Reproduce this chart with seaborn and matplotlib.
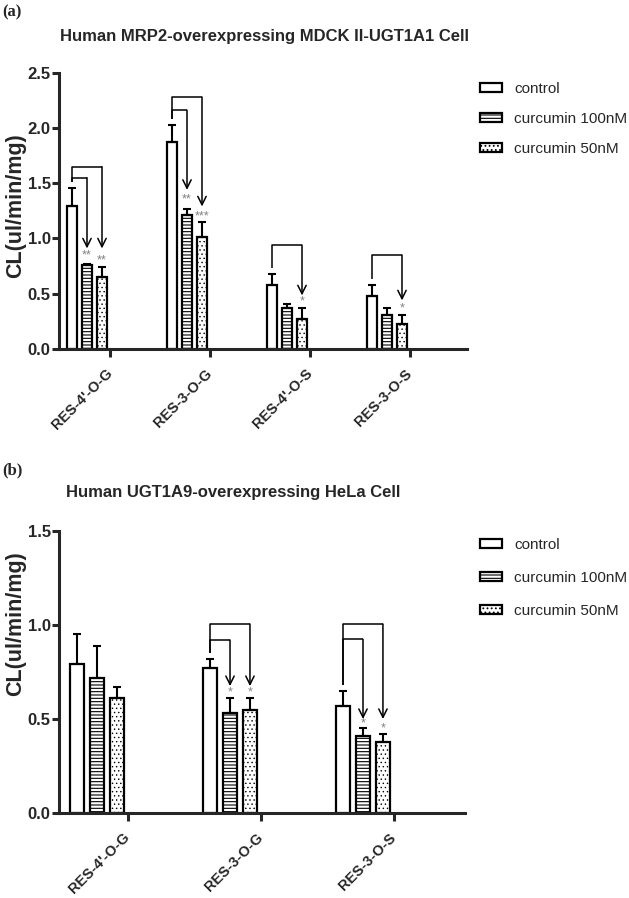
import matplotlib
matplotlib.use("Agg")
import matplotlib.pyplot as plt
import matplotlib.patches as mpatches
import pandas as pd
import seaborn as sns

sns.set_style("ticks")
plt.rcParams["font.family"] = ["Liberation Sans", "DejaVu Sans"]
plt.rcParams["hatch.linewidth"] = 0.8

# ---- data ----
treatments = ["control", "curcumin 100nM", "curcumin 50nM"]

mdck_sites = ["RES-4'-O-G", "RES-3-O-G", "RES-4'-O-S", "RES-3-O-S"]
mdck_control = [1.29, 1.87, 0.58, 0.48]
mdck_control_err = [1.46, 2.03, 0.68, 0.58]
mdck_100 = [0.76, 1.21, 0.37, 0.31]
mdck_100_err = [0.77, 1.27, 0.41, 0.37]
mdck_50 = [0.65, 1.01, 0.27, 0.23]
mdck_50_err = [0.74, 1.15, 0.37, 0.31]

hela_sites = ["RES-4'-O-G", "RES-3-O-G", "RES-3-O-S"]
hela_control = [0.79, 0.77, 0.57]
hela_control_err = [0.95, 0.82, 0.65]
hela_100 = [0.72, 0.53, 0.41]
hela_100_err = [0.89, 0.61, 0.45]
hela_50 = [0.61, 0.55, 0.38]
hela_50_err = [0.67, 0.61, 0.42]

# significance brackets: (group, treatment index, bracket height, arrow tip, star text, star y)
mdck_marks = [
    (0, 1, 1.55, 0.91, "**", 0.85),
    (0, 2, 1.65, 0.91, "**", 0.80),
    (1, 1, 2.16, 1.44, "**", 1.355),
    (1, 2, 2.28, 1.29, "***", 1.20),
    (2, 2, 0.94, 0.485, "*", 0.43),
    (3, 2, 0.85, 0.44, "*", 0.37),
]
hela_marks = [
    (1, 1, 0.92, 0.675, "*", 0.64),
    (1, 2, 1.005, 0.675, "*", 0.64),
    (2, 1, 0.924, 0.50, "*", 0.475),
    (2, 2, 1.005, 0.50, "*", 0.45),
]

hatches = ["", "-----", "...."]


def long_table(sites, control, c100, c50):
    rows = []
    for vals, t in zip([control, c100, c50], treatments):
        for s, v in zip(sites, vals):
            rows.append({"site": s, "treatment": t, "cl": v})
    return pd.DataFrame(rows)


def style_hatch(patch, hatch):
    patch.set_hatch(hatch)
    if hatch.startswith(".") and hasattr(patch, "set_hatch_linewidth"):
        patch.set_hatch_linewidth(0.5)


def draw_panel(ax, sites, means, tops, marks, ymax, xlim):
    df = long_table(sites, *means)
    sns.barplot(data=df, x="site", y="cl", hue="treatment", order=sites,
                hue_order=treatments, palette=["white"] * 3, edgecolor="black",
                linewidth=1.6, width=0.45, gap=0.33, errorbar=None,
                legend=False, ax=ax)
    bar_groups = list(ax.containers)
    centers = []
    for k, cont in enumerate(bar_groups):
        xs = []
        for j, bar in enumerate(cont):
            style_hatch(bar, hatches[k])
            x = bar.get_x() + bar.get_width() / 2
            xs.append(x)
            h = bar.get_height()
            ax.errorbar(x, h, yerr=[[0], [tops[k][j] - h]], color="black",
                        lw=1.5, capsize=2.6, capthick=1.5, zorder=1)
        centers.append(xs)

    for g, t, yb, tip, star, ys in marks:
        x0 = centers[0][g]
        x1 = centers[t][g]
        top0 = tops[0][g]
        ax.plot([x0, x0, x1], [top0 + 0.03 * ymax / 1.5, yb, yb],
                color="black", lw=1.1, solid_capstyle="butt")
        ax.annotate("", xy=(x1, tip), xytext=(x1, yb),
                    arrowprops=dict(arrowstyle="->,head_length=0.6,head_width=0.3",
                                    color="black", lw=1.1, shrinkA=0, shrinkB=0))
        ax.text(x1, ys, star, color="#808080", fontsize=9, ha="center",
                va="center")

    ax.set_ylim(0, ymax)
    ax.set_xlim(*xlim)
    yt = [i * 0.5 for i in range(int(round(ymax / 0.5)) + 1)]
    ax.set_yticks(yt, [f"{v:.1f}" for v in yt], fontsize=12, fontweight="bold")
    ax.set_xticks([i + 0.23 for i in range(len(sites))])
    ax.set_xticklabels(sites, rotation=45, ha="right", va="center",
                       rotation_mode="anchor", fontsize=10.5, fontweight="bold")
    ax.tick_params(axis="x", length=6, width=2.2, pad=10)
    ax.tick_params(axis="y", length=5, width=2.2, pad=1)
    sns.despine(ax=ax)
    for s in ["left", "bottom"]:
        ax.spines[s].set_linewidth(2.2)
    ax.set_xlabel("")
    ax.set_ylabel("CL(ul/min/mg)", fontsize=15.5, fontweight="bold")


def add_legend(fig, top_px, spacing):
    handles = []
    for h, t in zip(hatches, treatments):
        p = mpatches.Patch(facecolor="white", edgecolor="black", lw=1.6, label=t)
        style_hatch(p, h)
        handles.append(p)
    fig.legend(handles=handles, loc="upper left", frameon=False,
               bbox_to_anchor=(480 / 629, 1 - top_px / 898), borderpad=0,
               borderaxespad=0, fontsize=11, handlelength=1.45,
               handleheight=0.55, handletextpad=0.8, labelspacing=spacing)


fig = plt.figure(figsize=(6.29, 8.98), dpi=100)
W, H = 629, 898

ax1 = fig.add_axes([59 / W, 1 - 349 / H, (467 - 59) / W, (349 - 72.7) / H])
draw_panel(ax1, mdck_sites, [mdck_control, mdck_100, mdck_50],
           [mdck_control_err, mdck_100_err, mdck_50_err], mdck_marks, 2.5,
           (-0.28, 3.8))
ax1.yaxis.set_label_coords(-0.08, 0.52)

ax2 = fig.add_axes([59 / W, 1 - 813 / H, (465 - 59) / W, (813 - 531) / H])
draw_panel(ax2, hela_sites, [hela_control, hela_100, hela_50],
           [hela_control_err, hela_100_err, hela_50_err], hela_marks, 1.5,
           (-0.286, 2.767))
ax2.yaxis.set_label_coords(-0.08, 0.67)

fig.text(265 / W, 1 - 36 / H, "Human MRP2-overexpressing MDCK II-UGT1A1 Cell",
         ha="center", va="center", fontsize=12, fontweight="bold")
fig.text(233 / W, 1 - 493 / H, "Human UGT1A9-overexpressing HeLa Cell",
         ha="center", va="center", fontsize=12, fontweight="bold")
fig.text(2 / W, 1 - 12 / H, "(a)", ha="left", va="center", fontsize=12,
         fontweight="bold", family="Liberation Serif")
fig.text(2 / W, 1 - 470 / H, "(b)", ha="left", va="center", fontsize=12,
         fontweight="bold", family="Liberation Serif")

add_legend(fig, 82, 1.05)
add_legend(fig, 538, 1.25)

fig.savefig("out.png", dpi=100)
